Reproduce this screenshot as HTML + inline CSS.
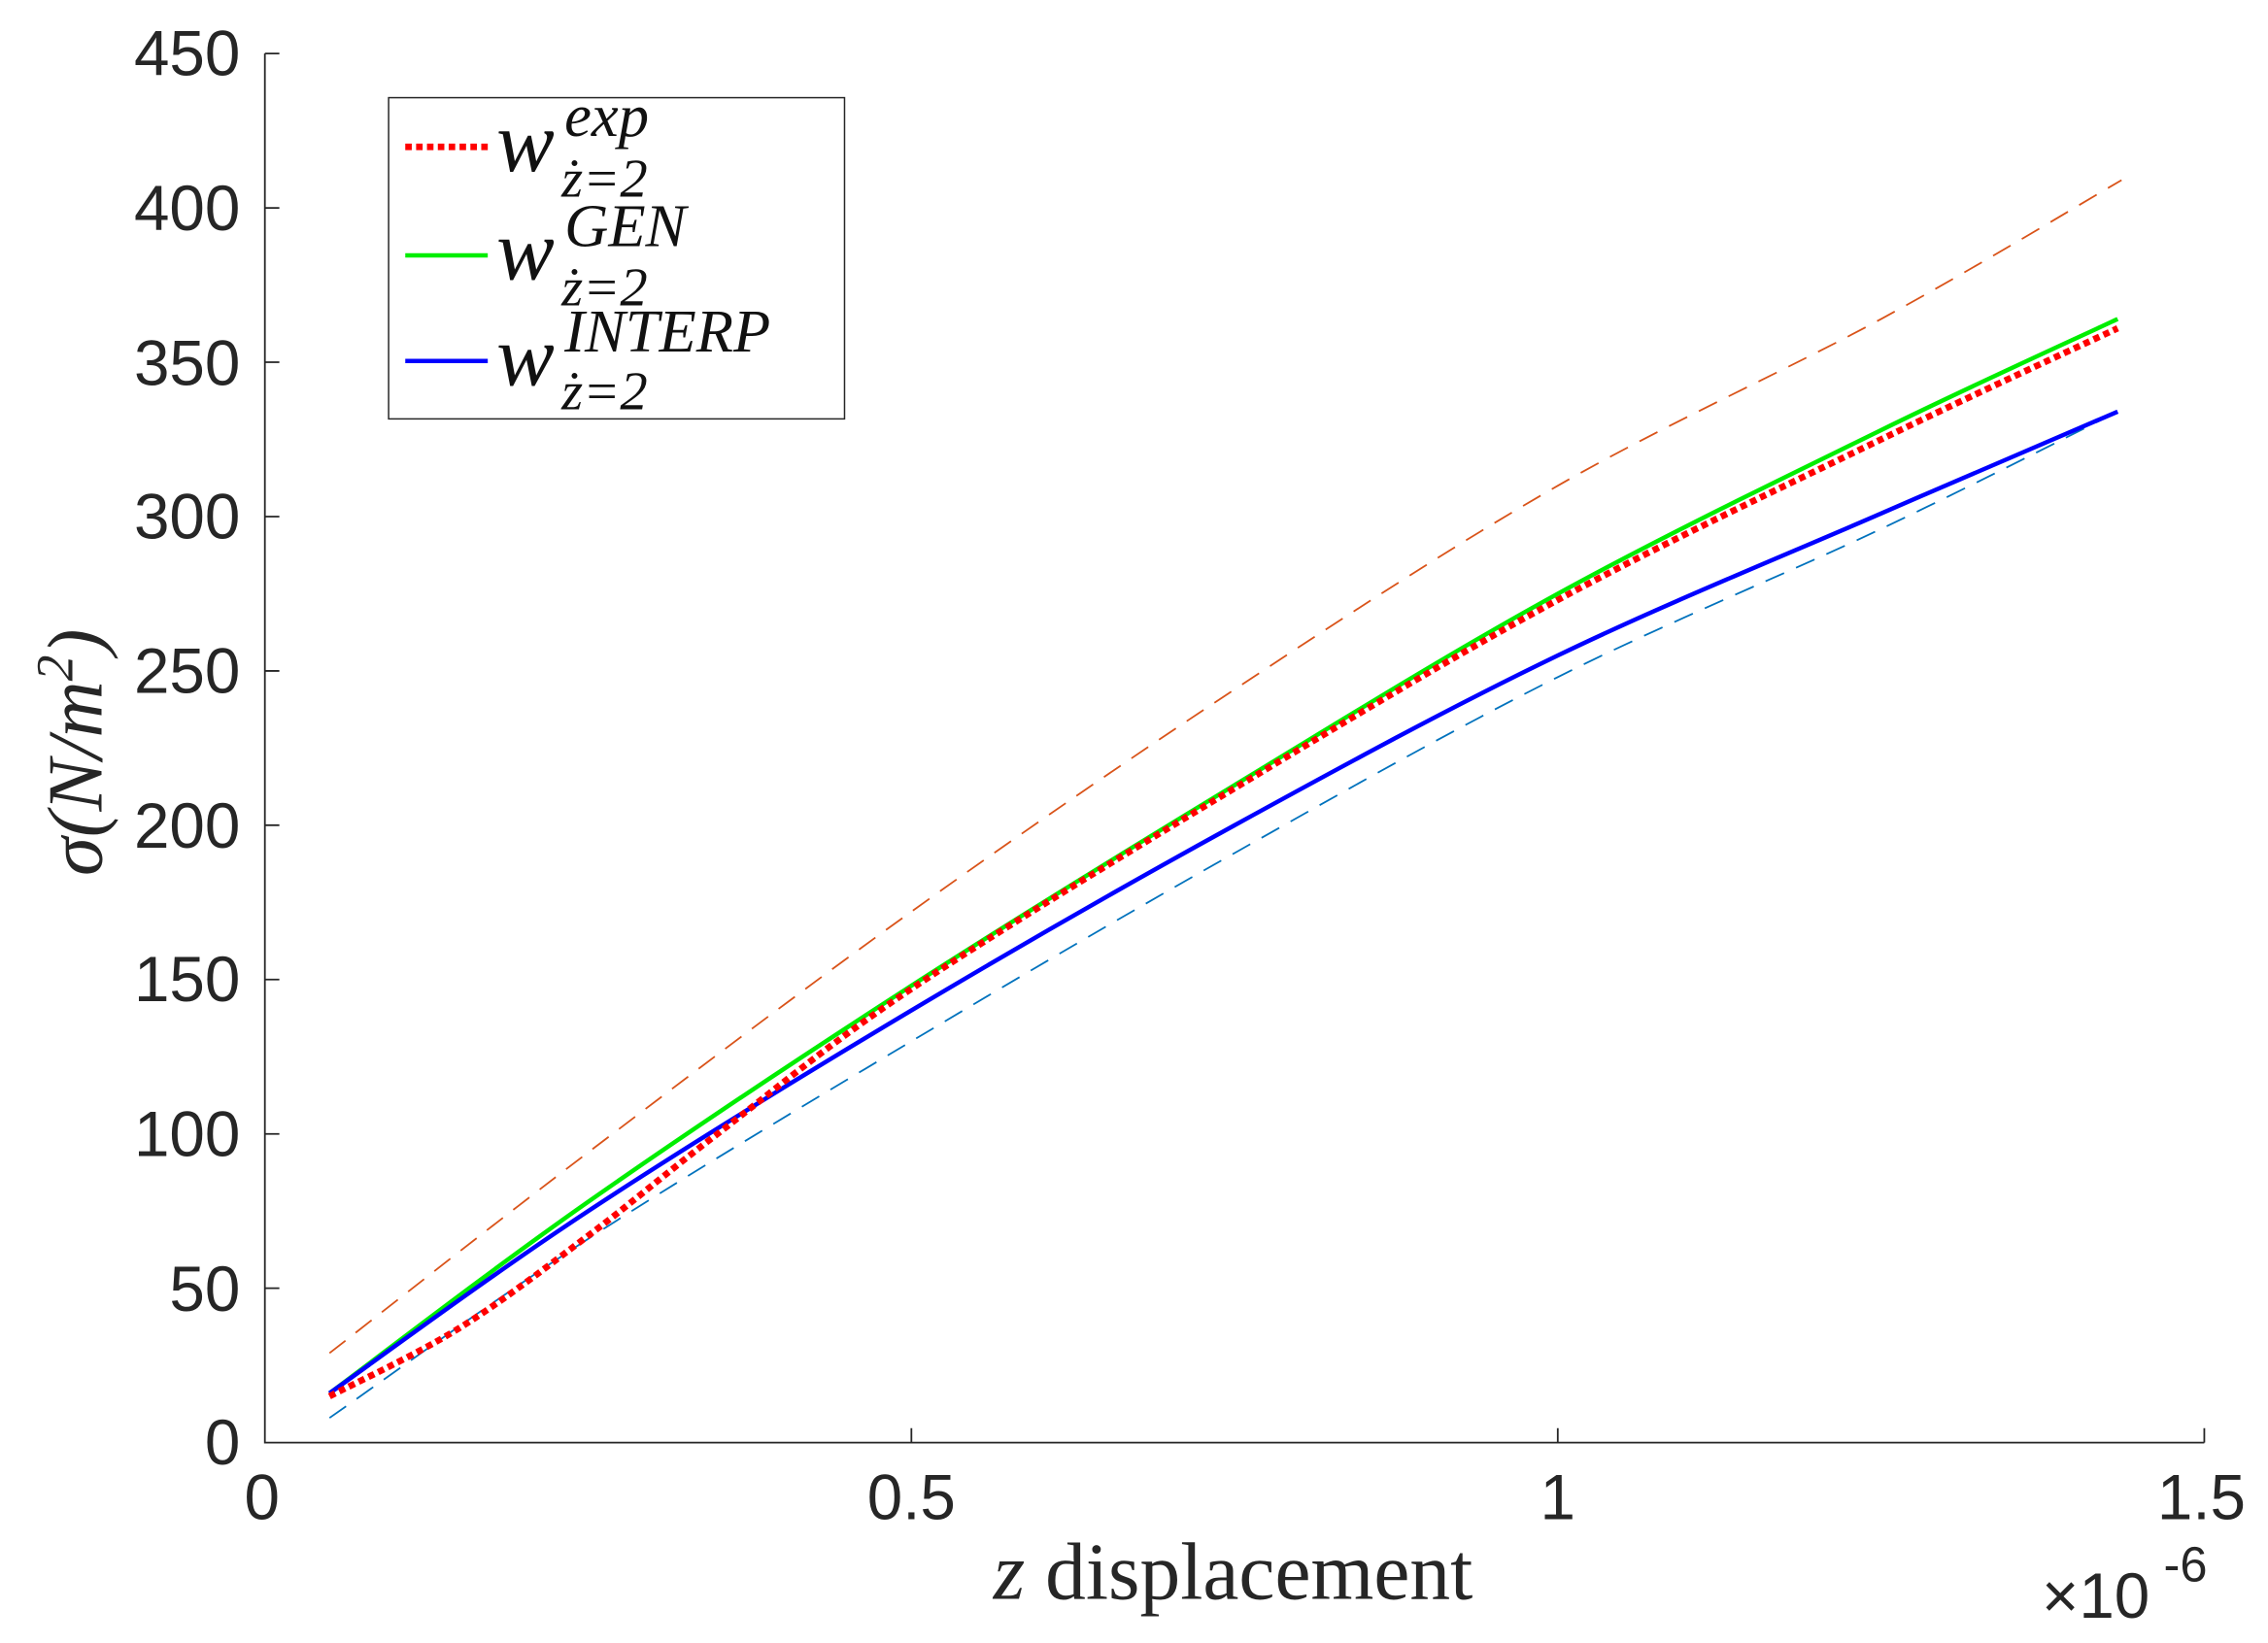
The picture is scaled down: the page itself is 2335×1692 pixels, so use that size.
<!DOCTYPE html>
<html><head><meta charset="utf-8"><style>html,body{margin:0;padding:0;background:#fff;}svg{display:block}</style></head>
<body>
<svg id="s" width="2335" height="1692" viewBox="0 0 1567 1135.5" xmlns="http://www.w3.org/2000/svg">
<rect width="1567" height="1135.5" fill="#fff"/>
<g stroke="#262626" stroke-width="1.2" fill="none">
<path d="M183,37 V997 H1523"/>
<path d="M183,37 h10 M183,143.7 h10 M183,250.3 h10 M183,357 h10 M183,463.7 h10 M183,570.3 h10 M183,677 h10 M183,783.7 h10 M183,890.3 h10"/>
<path d="M629.7,997 v-10 M1076.3,997 v-10 M1523,997 v-10"/>
</g>
<g font-family="Liberation Sans, sans-serif" font-size="44" fill="#262626" text-anchor="end">
<text x="166" y="52">450</text><text x="166" y="159">400</text><text x="166" y="266">350</text>
<text x="166" y="372">300</text><text x="166" y="479">250</text><text x="166" y="586">200</text>
<text x="166" y="692">150</text><text x="166" y="799">100</text><text x="166" y="906">50</text>
<text x="166" y="1012">0</text>
</g>
<g font-family="Liberation Sans, sans-serif" font-size="44" fill="#262626" text-anchor="middle">
<text x="181" y="1050">0</text><text x="629.7" y="1050">0.5</text><text x="1076.3" y="1050">1</text><text x="1521" y="1050">1.5</text>
<text x="1448" y="1118">×10</text><text x="1510" y="1093" font-size="34">-6</text>
</g>
<text x="852" y="1105" text-anchor="middle" font-family="Liberation Serif, serif" font-size="56" fill="#262626"><tspan font-style="italic">z</tspan> displacement</text>
<text transform="translate(70,520) rotate(-90)" text-anchor="middle" font-family="Liberation Serif, serif" font-size="54" fill="#262626" font-style="italic">σ(N/m<tspan dy="-20" font-size="36">2</tspan><tspan dy="20">)</tspan></text>
<g id="lines" fill="none"></g>
<rect x="268.5" y="67.5" width="315" height="222" fill="#fff" stroke="#262626" stroke-width="1"/>
<g stroke-width="3" fill="none">
<path d="M280,101.5 H337" stroke="#ff0000" stroke-width="4.5" stroke-dasharray="4.5,3"/>
<path d="M280,176.5 H337" stroke="#00ee00"/>
<path d="M280,249.5 H337" stroke="#0000ff"/>
</g>
<g font-family="Liberation Serif, serif" font-style="italic" fill="#111">
<text x="343" y="118" font-size="60">w</text><text x="390" y="94" font-size="42">exp</text><text x="388" y="136" font-size="38">ż=2</text>
<text x="343" y="193" font-size="60">w</text><text x="390" y="170" font-size="42">GEN</text><text x="388" y="211" font-size="38">ż=2</text>
<text x="343" y="266" font-size="60">w</text><text x="390" y="243" font-size="42">INTERP</text><text x="388" y="283" font-size="38">ż=2</text>
</g>
</svg>
<script>
function X(v){return 183+893.33*v}
function Y(s){return 997-2.1333*s}
function path(pts){
 var p=pts.map(function(a){return [X(a[0]),Y(a[1])]});
 var d="M"+p[0][0]+","+p[0][1];
 for(var i=0;i<p.length-1;i++){
  var p0=p[Math.max(0,i-1)],p1=p[i],p2=p[i+1],p3=p[Math.min(p.length-1,i+2)];
  var c1=[p1[0]+(p2[0]-p0[0])/6,p1[1]+(p2[1]-p0[1])/6];
  var c2=[p2[0]-(p3[0]-p1[0])/6,p2[1]-(p3[1]-p1[1])/6];
  d+=" C"+c1+" "+c2+" "+p2;
 }
 return d;
}
var S=[
 {c:"#d95319",w:1.2,da:"14,9",p:[[0.05,29],[0.25,94],[0.5,172],[0.75,244],[1.0,310],[1.25,364],[1.436,409]]},
 {c:"#0072bd",w:1.2,da:"14,9",p:[[0.05,8],[0.25,66],[0.5,130],[0.75,191],[1.0,248],[1.25,296],[1.433,334]]},
 {c:"#00ee00",w:3,da:"",p:[[0.05,16],[0.25,78],[0.5,148],[0.75,213],[1.0,275],[1.25,328],[1.433,364]]},
 {c:"#0000ff",w:3,da:"",p:[[0.05,16],[0.25,75],[0.5,140],[0.75,200],[1.0,255],[1.25,301],[1.433,334]]},
 {c:"#ff0000",w:4.5,da:"4.5,3",p:[[0.05,15],[0.15,37],[0.25,67],[0.35,100],[0.5,147],[0.75,212],[1.0,273],[1.25,325],[1.433,361]]}
];
var g=document.getElementById("lines"),h="";
S.forEach(function(s){h+='<path d="'+path(s.p)+'" stroke="'+s.c+'" stroke-width="'+s.w+'"'+(s.da?' stroke-dasharray="'+s.da+'"':'')+'/>';});
g.innerHTML=h;
</script>
</body></html>
